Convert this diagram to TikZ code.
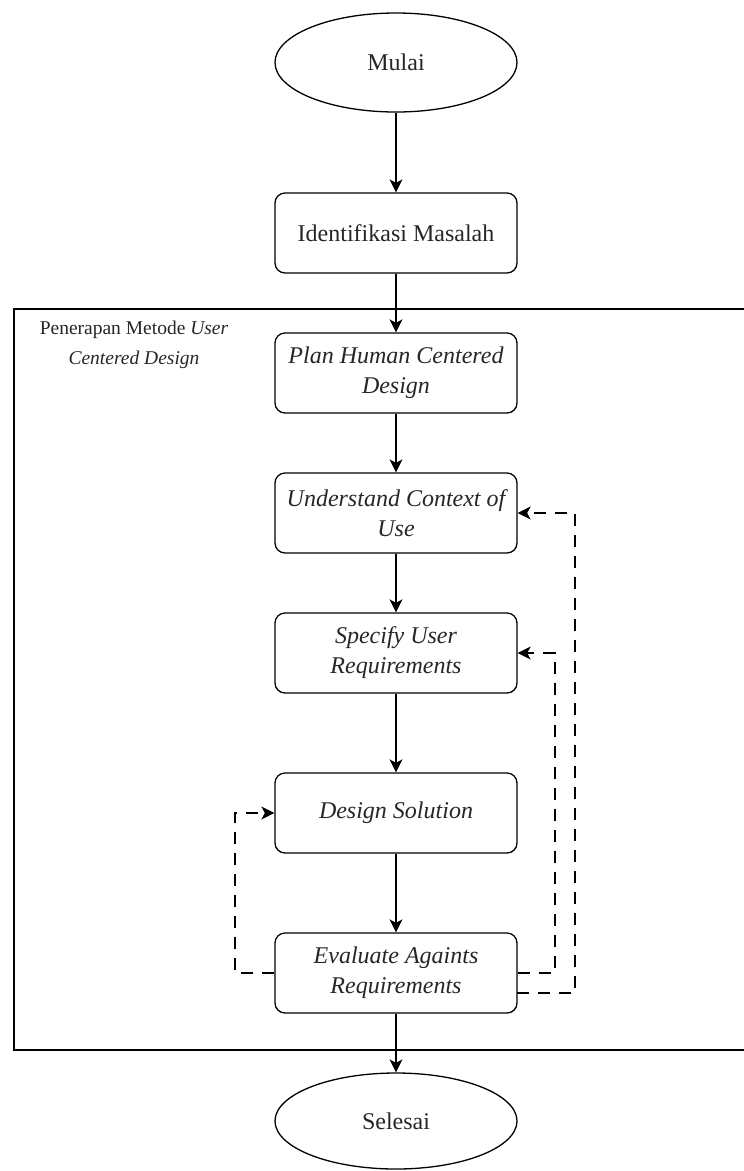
\documentclass[tikz,border=0pt]{standalone}
\usepackage{fontspec}
\setmainfont{Liberation Serif}
\usetikzlibrary{shapes.geometric,arrows.meta}
\begin{document}
\begin{tikzpicture}[x=1pt,y=-1pt,
  base/.style={draw=black,line width=1.3pt,text=black!85,font=\fontsize{24}{30}\selectfont,align=center},
  term/.style={base,ellipse,minimum width=242pt,inner sep=0pt},
  proc/.style={base,rounded corners=10pt,minimum width=242pt,minimum height=80pt,inner sep=2pt},
  itproc/.style={proc,font=\fontsize{24}{30}\selectfont\itshape},
  flow/.style={line width=1.3pt,-{Stealth[length=13pt,width=13pt,inset=3.5pt]}},
  back/.style={flow,dash pattern=on 12pt off 9pt}
]
\useasboundingbox (0,0) rectangle (744,1171);
% frame (right edge lies outside the picture)
\draw[line width=1.3pt] (744,309) -- (14,309) -- (14,1050) -- (744,1050);
\node[align=center,text=black!85,font=\fontsize{19.5}{30}\selectfont] (lbl) at (134,345)
  {Penerapan Metode \textit{User}\\\textit{Centered Design}};

\node[term,minimum height=99pt] (start) at (396,62.5) {Mulai};
\node[proc] (ident) at (396,233) {Identifikasi Masalah};
\node[itproc] (plan) at (396,373) {Plan Human Centered\\Design};
\node[itproc] (under) at (396,513) {Understand Context of\\Use};
\node[itproc] (spec) at (396,653) {Specify User\\Requirements};
\node[itproc] (design) at (396,813) {Design Solution};
\node[itproc] (eval) at (396,973) {Evaluate Againts\\Requirements};
\node[term,minimum height=96pt] (end) at (396,1121) {Selesai};

\draw[flow] (start) -- (ident);
\draw[flow] (ident) -- (plan);
\draw[flow] (plan) -- (under);
\draw[flow] (under) -- (spec);
\draw[flow] (spec) -- (design);
\draw[flow] (design) -- (eval);
\draw[flow] (eval) -- (end);

\coordinate (l1) at (235,973);
\coordinate (l2) at (235,813);
\draw[back] (eval.west) -- (l1) -- (l2) -- (design.west);
\coordinate (r1) at (555,973);
\coordinate (r2) at (555,653);
\draw[back] (eval.east) -- (r1) -- (r2) -- (spec.east);
\coordinate (e0) at (517,993);
\coordinate (o1) at (575,993);
\coordinate (o2) at (575,513);
\draw[back] (e0) -- (o1) -- (o2) -- (under.east);
\end{tikzpicture}
\end{document}
